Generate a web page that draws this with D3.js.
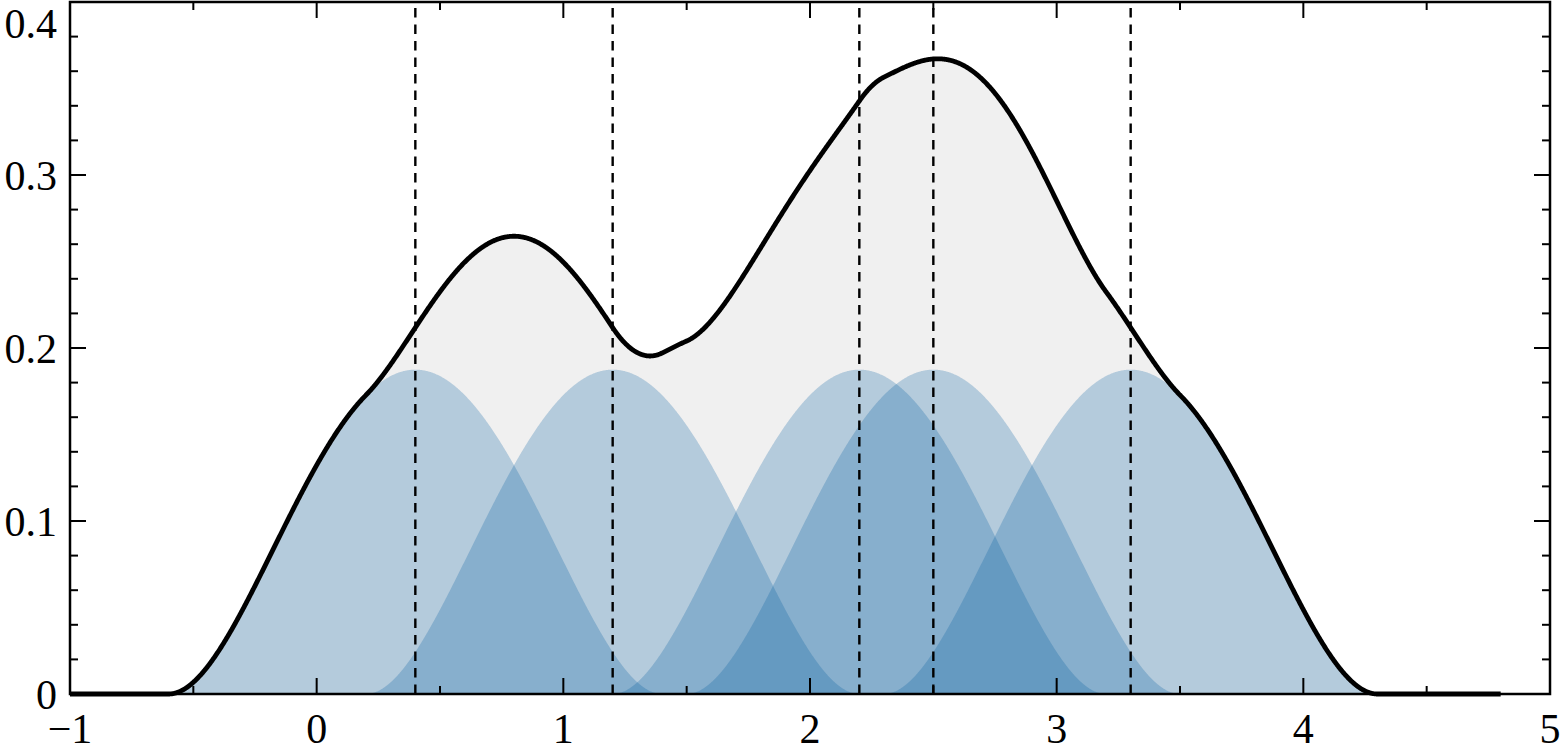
<!DOCTYPE html>
<html>
<head>
<meta charset="utf-8">
<script src="https://cdn.jsdelivr.net/npm/d3@7"></script>
<style>
  html, body { margin: 0; padding: 0; background: #fff; }
  svg { display: block; }
  text { font-family: "Liberation Serif", "DejaVu Serif", serif; fill: #000; }
</style>
</head>
<body>
<svg id="chart" width="1561" height="753"></svg>
<script>
// ---- data ----
const samplePoints = [0.4, 1.2, 2.2, 2.5, 3.3];   // observations (dashed lines)
const bandwidth = 1.0;                             // biweight kernel bandwidth
const gridStart = -1, gridEnd = 4.8;              // range of the density curve
const xMajorTicks = [-1, 0, 1, 2, 3, 4, 5];
const xTickLabels = ["\u22121", "0", "1", "2", "3", "4", "5"];
const yMajorTicks = [0, 0.1, 0.2, 0.3, 0.4];
const yTickLabels = ["0", "0.1", "0.2", "0.3", "0.4"];

(function () {
// ---- layout ----
const padL = 70, padR = 1550, padT = 2, padB = 694;
const svg = d3.select("#chart");
const x = d3.scaleLinear().domain([-1, 5]).range([padL, padR]);
const y = d3.scaleLinear().domain([0, 0.4]).range([padB, padT]);

const n = samplePoints.length;
function biweight(u) { return Math.abs(u) < 1 ? (15 / 16) * Math.pow(1 - u * u, 2) : 0; }
function kernelAt(xi, t) { return biweight((t - xi) / bandwidth) / (bandwidth * n); }

const step = 0.002;
const grid = d3.range(gridStart, gridEnd + step / 2, step);
const total = grid.map(t => ({ t, v: d3.sum(samplePoints, xi => kernelAt(xi, t)) }));

const area = d3.area().x(d => x(d.t)).y0(y(0)).y1(d => y(d.v));
const line = d3.line().x(d => x(d.t)).y(d => y(d.v));

// grey fill under total density
svg.append("path").datum(total).attr("d", area).attr("fill", "#f0f0f0");

// individual kernels
samplePoints.forEach(xi => {
  const pts = d3.range(xi - bandwidth, xi + bandwidth + step / 2, step).map(t => ({ t, v: kernelAt(xi, t) }));
  svg.append("path").datum(pts).attr("d", area)
    .attr("fill", "rgb(0,92,160)").attr("fill-opacity", 0.25);
});

// dashed vertical lines at sample points
svg.selectAll("line.obs").data(samplePoints).enter().append("line")
  .attr("class", "obs")
  .attr("x1", d => x(d)).attr("x2", d => x(d))
  .attr("y1", y(0)).attr("y2", y(0.4))
  .attr("stroke", "#000").attr("stroke-width", 2.4)
  .attr("stroke-dasharray", "9.5,7");

// total density line
svg.append("path").datum(total).attr("d", line)
  .attr("fill", "none").attr("stroke", "#000").attr("stroke-width", 4.8)
  .attr("stroke-linejoin", "round");

// frame
svg.append("rect").attr("x", padL).attr("y", padT)
  .attr("width", padR - padL).attr("height", padB - padT)
  .attr("fill", "none").attr("stroke", "#000").attr("stroke-width", 2.5);

// ticks
const tickG = svg.append("g").attr("stroke", "#000").attr("stroke-width", 2);
const xMinor = d3.range(-0.5, 5, 1);
const yMinor = d3.range(1, 20).map(k => k * 0.02).filter((v, i) => (i + 1) % 5 !== 0);
function xt(vals, len) {
  vals.forEach(v => {
    tickG.append("line").attr("x1", x(v)).attr("x2", x(v)).attr("y1", padB).attr("y2", padB - len);
    tickG.append("line").attr("x1", x(v)).attr("x2", x(v)).attr("y1", padT).attr("y2", padT + len);
  });
}
function yt(vals, len) {
  vals.forEach(v => {
    tickG.append("line").attr("y1", y(v)).attr("y2", y(v)).attr("x1", padL).attr("x2", padL + len);
    tickG.append("line").attr("y1", y(v)).attr("y2", y(v)).attr("x1", padR).attr("x2", padR - len);
  });
}
xt(xMajorTicks, 16); xt(xMinor, 8);
yt(yMajorTicks, 16); yt(yMinor, 8);

// labels
const fs = 42;
svg.selectAll("text.xl").data(xMajorTicks).enter().append("text")
  .attr("class", "xl")
  .attr("x", d => x(d)).attr("y", 743)
  .attr("text-anchor", "middle").attr("font-size", fs)
  .text((d, i) => xTickLabels[i]);
svg.selectAll("text.yl").data(yMajorTicks).enter().append("text")
  .attr("class", "yl")
  .attr("x", 57).attr("y", d => Math.max(y(d) + 15, 38))
  .attr("text-anchor", "end").attr("font-size", fs)
  .text((d, i) => yTickLabels[i]);
})();
</script>
</body>
</html>
